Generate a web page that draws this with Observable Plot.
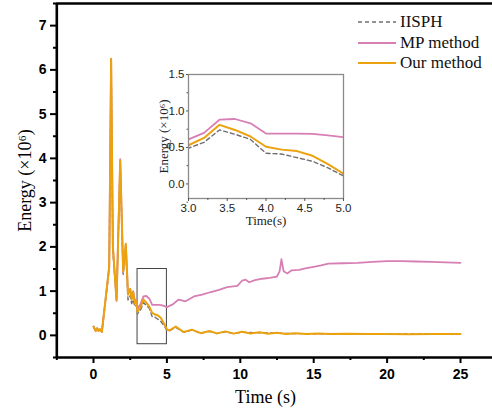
<!DOCTYPE html>
<html><head><meta charset="utf-8">
<script src="https://cdn.jsdelivr.net/npm/d3@7"></script>
<script src="https://cdn.jsdelivr.net/npm/@observablehq/plot@0.6"></script>
<style>
body{margin:0;background:#fff;}
#wrap{position:relative;width:492px;height:408px;overflow:hidden;background:#fff;}
#wrap > .abs{position:absolute;}
</style></head><body><div id="wrap"></div>
<script>
const seriesNames = ["IISPH", "MP method", "Our method"];
const seriesColors = ["#6f6f6f", "#d77fb4", "#eba20e"];

const timeIISPH = [0, 0.15, 0.25, 0.35, 0.45, 0.57, 1.07, 1.2, 1.32, 1.57, 1.82, 2.02, 2.2, 2.35, 2.5, 2.6, 2.7, 2.82, 2.92, 3.0, 3.2, 3.4, 3.6, 3.8, 4.0, 4.2, 4.4, 4.6, 4.8, 5.0, 5.15, 5.6, 6.15, 6.7, 7.3, 7.9, 8.4, 9.0, 9.55, 10.1, 11.3, 12.5, 13.8, 15.3, 17.2, 20, 23, 25];
const energyIISPH = [0.2, 0.1, 0.16, 0.1, 0.14, 0.08, 1.5, 6.2, 1.9, 0.82, 3.9, 1.38, 1.95, 0.8, 0.9, 0.72, 0.8, 0.65, 0.68, 0.49, 0.57, 0.74, 0.68, 0.61, 0.42, 0.41, 0.36, 0.31, 0.22, 0.11, 0.1, 0.18, 0.07, 0.12, 0.05, 0.09, 0.04, 0.08, 0.04, 0.07, 0.06, 0.05, 0.04, 0.035, 0.03, 0.03, 0.03, 0.03];

const timeMP = [0, 0.15, 0.25, 0.35, 0.45, 0.57, 1.07, 1.2, 1.32, 1.57, 1.82, 2.02, 2.2, 2.35, 2.5, 2.6, 2.7, 2.82, 2.92, 3.0, 3.2, 3.4, 3.6, 3.8, 4.0, 4.2, 4.4, 4.6, 4.8, 5.0, 5.4, 5.8, 6.27, 6.84, 7.4, 8.0, 8.55, 9.1, 9.8, 10.13, 10.36, 10.6, 11.0, 11.5, 12.0, 12.5, 12.68, 12.8, 12.95, 13.2, 13.5, 14.0, 14.5, 15.0, 15.5, 16.0, 17.0, 18.0, 19.0, 20.0, 21.0, 22.0, 23.0, 24.0, 25.0];
const energyMP = [0.2, 0.1, 0.16, 0.1, 0.14, 0.08, 1.55, 6.25, 2.0, 0.78, 3.98, 1.42, 2.05, 0.95, 1.05, 0.85, 1.0, 0.78, 0.8, 0.61, 0.70, 0.88, 0.89, 0.83, 0.69, 0.69, 0.69, 0.685, 0.665, 0.64, 0.7, 0.81, 0.77, 0.88, 0.92, 0.98, 1.03, 1.09, 1.12, 1.24, 1.26, 1.2, 1.25, 1.28, 1.3, 1.33, 1.45, 1.72, 1.45, 1.4, 1.47, 1.48, 1.52, 1.55, 1.58, 1.62, 1.63, 1.64, 1.66, 1.68, 1.68, 1.67, 1.66, 1.65, 1.64];

const timeOur = [0, 0.15, 0.25, 0.35, 0.45, 0.57, 1.07, 1.2, 1.32, 1.57, 1.82, 2.02, 2.2, 2.35, 2.5, 2.6, 2.7, 2.82, 2.92, 3.0, 3.2, 3.4, 3.6, 3.8, 4.0, 4.2, 4.4, 4.6, 4.8, 5.0, 5.15, 5.6, 6.15, 6.7, 7.3, 7.9, 8.4, 9.0, 9.55, 10.1, 10.7, 11.3, 11.9, 12.5, 13.1, 13.8, 14.5, 15.3, 16.2, 17.2, 18.5, 20, 21.5, 23, 25];
const energyOur = [0.2, 0.1, 0.16, 0.1, 0.14, 0.08, 1.55, 6.25, 2.0, 0.8, 3.95, 1.45, 2.07, 0.92, 1.05, 0.8, 0.98, 0.72, 0.78, 0.53, 0.63, 0.81, 0.74, 0.65, 0.51, 0.47, 0.45, 0.385, 0.27, 0.14, 0.11, 0.2, 0.075, 0.13, 0.05, 0.1, 0.045, 0.09, 0.04, 0.08, 0.04, 0.07, 0.035, 0.06, 0.03, 0.05, 0.03, 0.04, 0.03, 0.035, 0.03, 0.03, 0.028, 0.03, 0.03];

const xTicks = [0, 5, 10, 15, 20, 25];
const xMinor = [-2.5, 2.5, 7.5, 12.5, 17.5, 22.5];
const yTicks = [0, 1, 2, 3, 4, 5, 6, 7];
const yMinor = [-0.5, 0.5, 1.5, 2.5, 3.5, 4.5, 5.5, 6.5, 7.5];
const insetXTicks = [3, 3.5, 4, 4.5, 5];
const insetXMinor = [3.25, 3.75, 4.25, 4.75];
const insetYTicks = [0, 0.5, 1, 1.5];
const insetYMinor = [-0.25, 0.25, 0.75, 1.25];
const zoomBox = [{t1: 3, t2: 5, e1: -0.2, e2: 1.5}];

const rows = (name, ts, es) => ts.map((t, i) => ({series: name, t, e: es[i]}));
const dIISPH = rows(seriesNames[0], timeIISPH, energyIISPH);
const dMP = rows(seriesNames[1], timeMP, energyMP);
const dOur = rows(seriesNames[2], timeOur, energyOur);

const lineMarks = (clip) => [
  Plot.line(dIISPH, {x: "t", y: "e", stroke: seriesColors[0], strokeWidth: 1.4, strokeDasharray: "4,3", clip}),
  Plot.line(dMP, {x: "t", y: "e", stroke: seriesColors[1], strokeWidth: 1.8, clip}),
  Plot.line(dOur, {x: "t", y: "e", stroke: seriesColors[2], strokeWidth: 2, clip})
];

const serif = "'Liberation Serif', 'Times New Roman', serif";
const sans = "'Liberation Sans', Arial, sans-serif";

const main = Plot.plot({
  width: 492, height: 408,
  marginLeft: 56, marginRight: 0, marginTop: 3, marginBottom: 51,
  style: {fontFamily: sans, fontSize: "14px", color: "#000", background: "transparent", overflow: "visible"},
  x: {domain: [-2.5, 27.5], range: [56.3, 496.7]},
  y: {domain: [-0.5, 7.5], range: [357, 3]},
  marks: [
    Plot.rect(zoomBox, {x1: "t1", x2: "t2", y1: "e1", y2: "e2", stroke: "#444", strokeWidth: 1, fill: "none"}),
    ...lineMarks(false),
    Plot.ruleX([-2.5], {stroke: "#000", strokeWidth: 2.6}),
    Plot.ruleY([-0.5], {stroke: "#000", strokeWidth: 2.6}),
    Plot.ruleY([7.5], {stroke: "#000", strokeWidth: 2.6}),
    Plot.axisX(xTicks, {tickSize: 6, tickPadding: 6, strokeWidth: 2, tickFormat: d => d, label: null, fontSize: 14, fontWeight: "bold"}),
    Plot.axisX(xMinor, {tickSize: 3, strokeWidth: 2, text: null, label: null}),
    Plot.axisY(yTicks, {tickSize: 6, tickPadding: 4, strokeWidth: 2, tickFormat: d => d, label: null, fontSize: 14, fontWeight: "bold"}),
    Plot.axisY(yMinor, {tickSize: 3, strokeWidth: 2, text: null, label: null}),
    Plot.text(["Time (s)"], {frameAnchor: "bottom", lineAnchor: "middle", textAnchor: "middle", dx: -9, dy: 40, fontFamily: serif, fontSize: 18, fill: "#000"}),
    Plot.text(["Energy (×10⁶)"], {frameAnchor: "left", lineAnchor: "middle", textAnchor: "middle", rotate: -90, dx: -31, dy: 0, fontFamily: serif, fontSize: 18, fill: "#000"})
  ]
});
main.classList.add("abs");
main.style.left = "0px"; main.style.top = "0px";

const inset = Plot.plot({
  width: 215, height: 170,
  marginLeft: 53, marginRight: 7, marginTop: 8, marginBottom: 38,
  style: {fontFamily: sans, fontSize: "11.5px", color: "#222", background: "transparent", overflow: "visible"},
  x: {domain: [3, 5]},
  y: {domain: [-0.2, 1.5]},
  marks: [
    ...lineMarks(true),
    Plot.frame({stroke: "#8a8a8a", strokeWidth: 1.3}),
    Plot.axisX(insetXTicks, {tickSize: 3, tickPadding: 2, tickFormat: d3.format(".1f"), label: null, stroke: "#555"}),
    Plot.axisX(insetXMinor, {tickSize: 2, text: null, label: null, stroke: "#555"}),
    Plot.axisY(insetYTicks, {tickSize: 2, tickPadding: 2, tickFormat: d3.format(".1f"), label: null, stroke: "#555"}),
    Plot.axisY(insetYMinor, {tickSize: 1.5, text: null, label: null, stroke: "#555"}),
    Plot.text(["Time(s)"], {frameAnchor: "bottom", lineAnchor: "middle", textAnchor: "middle", dy: 22, fontFamily: serif, fontSize: 13, fill: "#222"}),
    Plot.text(["Energy (×10⁶)"], {frameAnchor: "left", lineAnchor: "middle", textAnchor: "middle", rotate: -90, dx: -25, fontFamily: serif, fontSize: 13, fill: "#222"})
  ]
});
inset.classList.add("abs");
inset.style.left = "135px"; inset.style.top = "66px";

const legend = document.createElement("div");
legend.className = "abs";
legend.style.left = "355px"; legend.style.top = "12px";
const dashes = ["4,3", null, null];
const widths = [1.4, 1.8, 2];
legend.innerHTML = seriesNames.map((n, i) =>
  `<div style="display:flex;align-items:center;height:20.5px;font-family:${serif};font-size:17px;color:#111;">
     <svg width="44" height="10" style="display:block"><line x1="3" x2="41" y1="5" y2="5" stroke="${seriesColors[i]}" stroke-width="${widths[i]}" ${dashes[i] ? `stroke-dasharray="${dashes[i]}"` : ""}/></svg>
     <span style="margin-left:1px">${n}</span></div>`).join("");

const wrap = document.getElementById("wrap");
wrap.append(main, inset, legend);
</script></body></html>
